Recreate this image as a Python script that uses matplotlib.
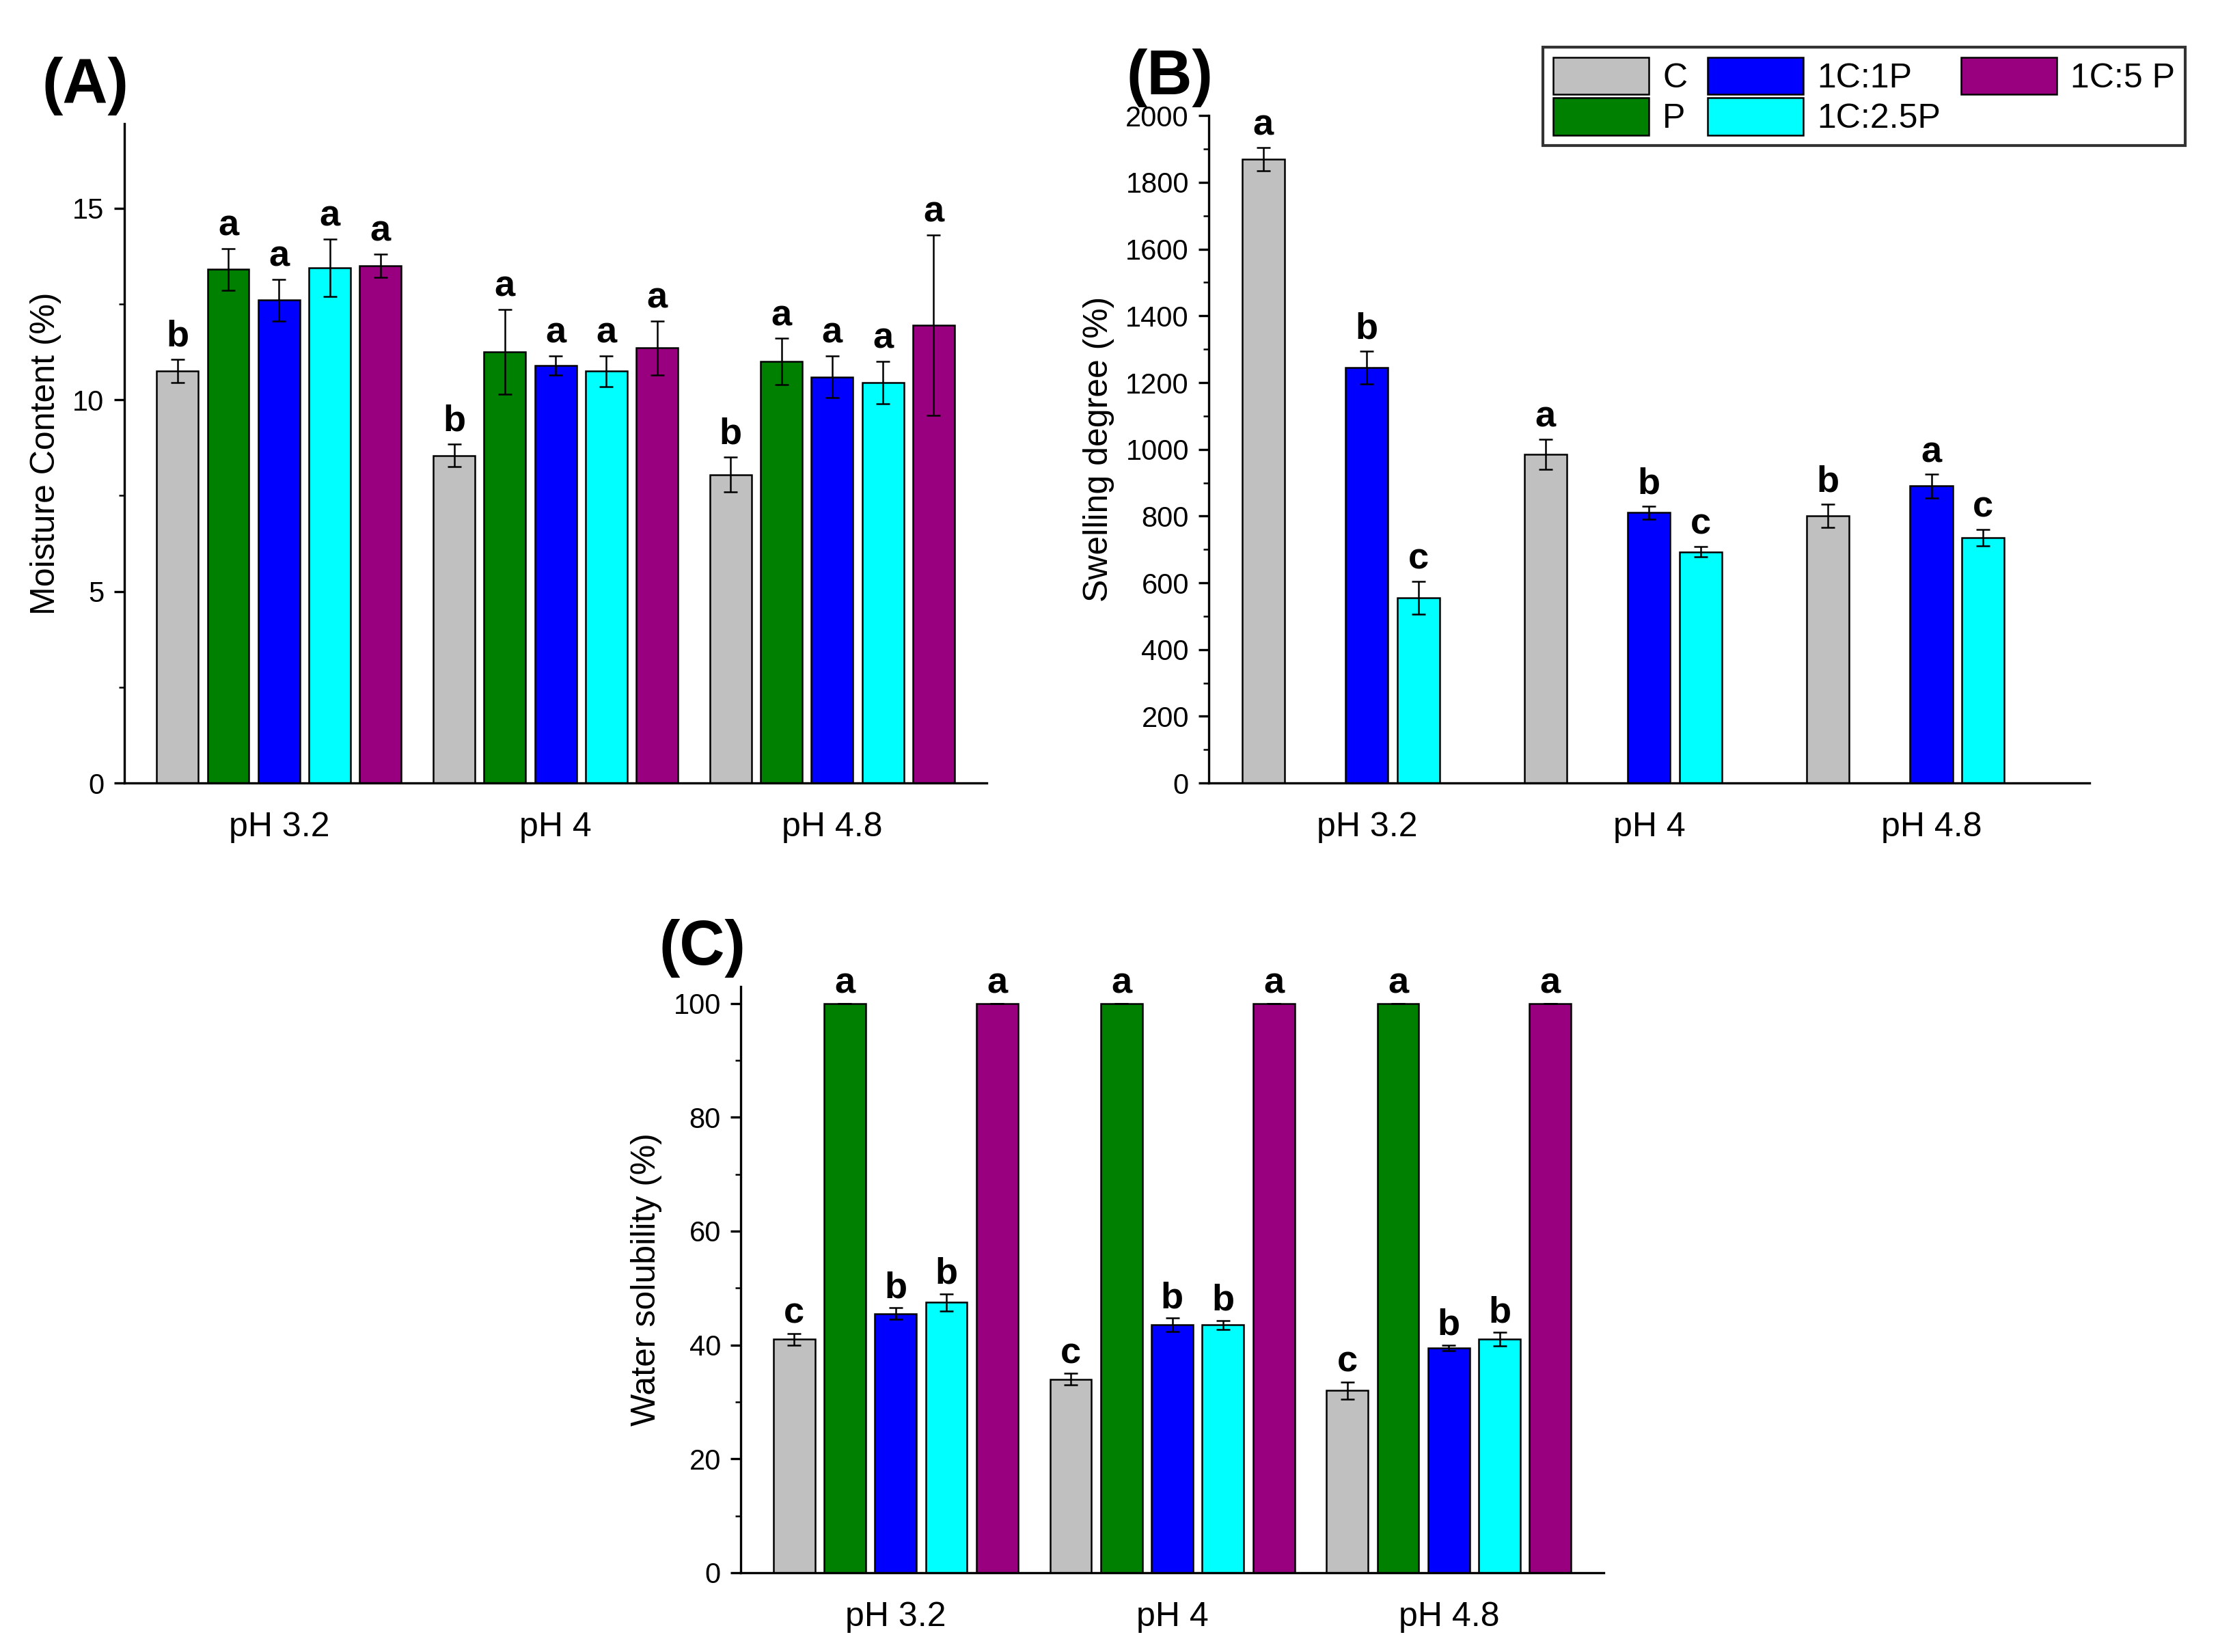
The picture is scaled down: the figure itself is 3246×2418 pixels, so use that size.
"""
Moisture content, swelling degree and water solubility of films at three pH values.
"""

import matplotlib.pyplot as plt
import numpy as np

plt.rcParams['font.family'] = ['Liberation Sans', 'DejaVu Sans']
plt.rcParams['font.size'] = 11

groups = ['pH 3.2', 'pH 4', 'pH 4.8']
samples = ['C', 'P', '1C:1P', '1C:2.5P', '1C:5 P']
colors = ['#c0c0c0', '#008000', '#0000ff', '#00ffff', '#990080']

# Panel A: moisture content (%)
moist = [[10.75, 8.55, 8.05], [13.4, 11.25, 11.0], [12.6, 10.9, 10.6],
         [13.45, 10.75, 10.45], [13.5, 11.35, 11.95]]
moist_err = [[0.3, 0.3, 0.45], [0.55, 1.1, 0.6], [0.55, 0.25, 0.55],
             [0.75, 0.4, 0.55], [0.3, 0.7, 2.35]]
moist_let = [['b', 'b', 'b'], ['a', 'a', 'a'], ['a', 'a', 'a'],
             ['a', 'a', 'a'], ['a', 'a', 'a']]

# Panel B: swelling degree (%), P and 1C:5P dissolved
swell = [[1870, 985, 800], [np.nan] * 3, [1245, 810, 890],
         [555, 693, 735], [np.nan] * 3]
swell_err = [[35, 45, 35], [0, 0, 0], [50, 20, 35], [50, 15, 25], [0, 0, 0]]
swell_let = [['a', 'a', 'b'], ['', '', ''], ['b', 'b', 'a'],
             ['c', 'c', 'c'], ['', '', '']]

# Panel C: water solubility (%)
solub = [[41, 34, 32], [100, 100, 100], [45.5, 43.5, 39.5],
         [47.5, 43.5, 41], [100, 100, 100]]
solub_err = [[1, 1, 1.5], [0, 0, 0], [1, 1.2, 0.5], [1.5, 0.8, 1.2], [0, 0, 0]]
solub_let = [['c', 'c', 'c'], ['a', 'a', 'a'], ['b', 'b', 'b'],
             ['b', 'b', 'b'], ['a', 'a', 'a']]

gstep = 5.45  # distance between groups, in bar slots
fig = plt.figure(figsize=(10.82, 8.06), dpi=300)


def panel(rect, vals, errs, lets, ylabel, ylim, yticks, minor, off, tag):
    ax = fig.add_axes(rect)
    for k in range(5):
        x = np.arange(3) * gstep + k
        v = np.array(vals[k], dtype=float)
        ax.bar(x, v, width=0.82, color=colors[k], edgecolor='black',
               linewidth=0.6, label=samples[k])
        ax.errorbar(x, v, yerr=errs[k], fmt='none', ecolor='black',
                    elinewidth=0.6, capsize=2.5, capthick=0.6)
        for i in range(3):
            if lets[k][i]:
                ax.text(x[i], v[i] + errs[k][i] + off, lets[k][i],
                        ha='center', va='bottom', fontsize=13, fontweight='bold')
    ax.set_xlim(-1.05, 2 * gstep + 4 + 1.05)
    ax.set_ylim(*ylim)
    ax.set_yticks(yticks)
    ax.set_yticks(minor, minor=True)
    ax.set_xticks(np.arange(3) * gstep + 2)
    ax.set_xticklabels(groups, fontsize=12)
    ax.tick_params(axis='x', length=0, pad=10)
    ax.tick_params(axis='y', which='both', direction='out', labelsize=10)
    ax.tick_params(axis='y', which='minor', length=2)
    ax.spines['top'].set_visible(False)
    ax.spines['right'].set_visible(False)
    ax.set_ylabel(ylabel, fontsize=12)
    fig.text(rect[0] - 0.037, rect[1] + rect[3] + 0.005, tag,
             fontsize=22, fontweight='bold', va='bottom')
    return ax


panel([0.056, 0.526, 0.389, 0.399], moist, moist_err, moist_let,
      'Moisture Content (%)', (0, 17.2), [0, 5, 10, 15],
      np.arange(0, 17.5, 2.5), 0.15, '(A)')
axb = panel([0.545, 0.526, 0.397, 0.404], swell, swell_err, swell_let,
            'Swelling degree (%)', (0, 2000), np.arange(0, 2001, 200),
            np.arange(0, 2001, 100), 15, '(B)')
panel([0.334, 0.048, 0.389, 0.355], solub, solub_err, solub_let,
      'Water solubility (%)', (0, 103), np.arange(0, 101, 20),
      np.arange(0, 101, 10), 0.5, '(C)')

handles, labels = axb.get_legend_handles_labels()
order = [0, 1, 2, 3, 4]
fig.legend([handles[i] for i in order], [labels[i] for i in order],
           loc='upper right', bbox_to_anchor=(0.993, 0.982), ncol=3,
           fontsize=12, fancybox=False, edgecolor='black', handlelength=2.8,
           handleheight=1.3, columnspacing=0.6, handletextpad=0.4,
           borderpad=0.3, labelspacing=0.1)

plt.savefig('out.png')
